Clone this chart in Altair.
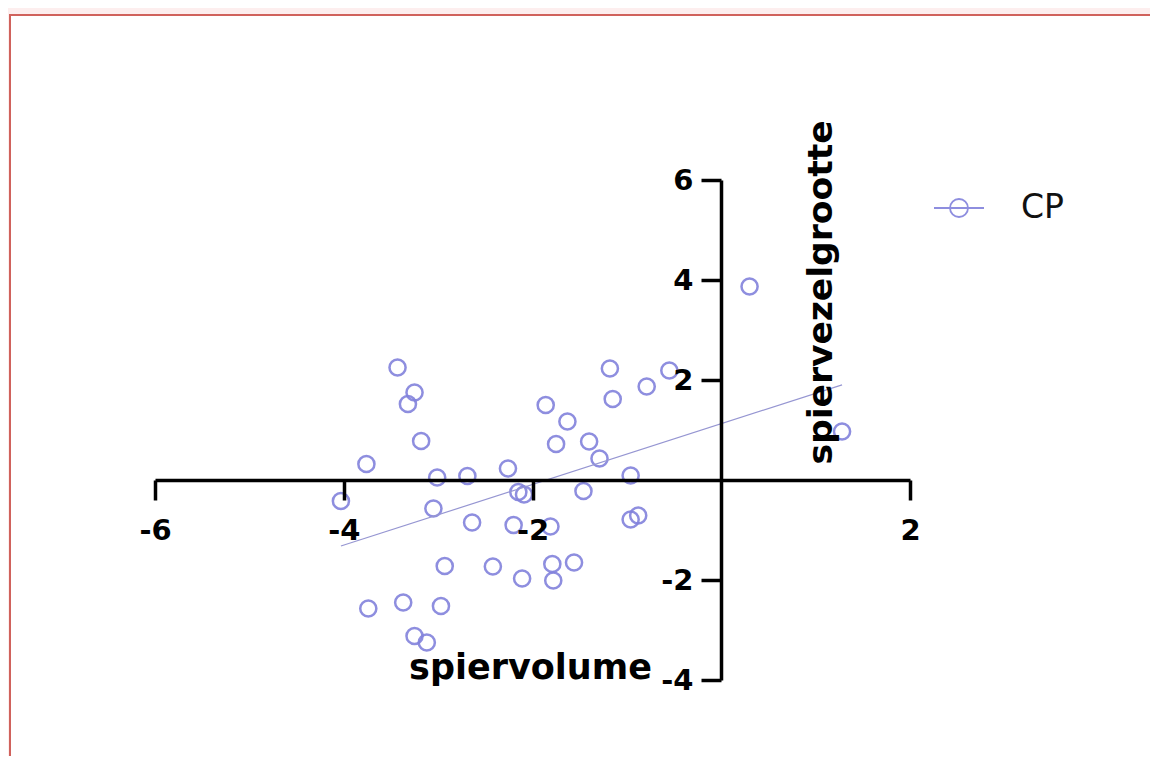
import altair as alt
import pandas as pd

# values
x_vals = [-3.43, -3.25, -3.32, -3.18, -3.76, -4.03,
          -3.01, -2.69, -2.26, -2.09, -2.15,
          -3.05, -2.64, -2.20, -1.81,
          -1.86, -1.63, -1.75, -1.40, -1.29, -1.46,
          -0.96, -1.18, -1.15, -0.79, -0.55, -0.96, -0.88,
          -2.93, -2.42, -2.11, -1.79, -1.78, -1.56,
          -3.74, -3.37, -2.97, -3.25, -3.12,
          0.30, 1.28]
y_vals = [2.25, 1.75, 1.52, 0.78, 0.32, -0.42,
          0.05, 0.08, 0.23, -0.29, -0.24,
          -0.57, -0.85, -0.90, -0.93,
          1.50, 1.17, 0.72, 0.77, 0.43, -0.22,
          0.09, 2.23, 1.62, 1.87, 2.19, -0.79, -0.71,
          -1.72, -1.73, -1.97, -1.68, -2.01, -1.65,
          -2.57, -2.45, -2.52, -3.12, -3.25,
          3.87, 0.97]
series_name = "CP"
x_ticks = [-6, -4, -2, 2]
y_ticks = [-4, -2, 2, 4, 6]
x_title = "spiervolume"
y_title = "spiervezelgrootte"

df = pd.DataFrame({"x": x_vals, "y": y_vals, "grp": [series_name] * len(x_vals)})
frame_df = pd.DataFrame({"k": [0]})

FONT = "DejaVu Sans"
PT_COLOR = "#8282dc"
LINE_COLOR = "#9696d2"
FRAME_COLOR = "#d0625c"
LABEL_EXPR = "replace(datum.label, '\u2212', '-')"

axis_common = dict(domainColor="black", domainWidth=3.5, tickColor="black", tickWidth=3.5,
                   tickSize=20, labelFont=FONT, labelFontWeight="bold", labelFontSize=29,
                   labelColor="black", titleFont=FONT, titleFontWeight="bold",
                   titleColor="black", grid=False, zindex=1,
                   labelFlush=False, labelOverlap=False, labelExpr=LABEL_EXPR)

xs = alt.Scale(domain=[-6, 2], nice=False, zero=False)
ys = alt.Scale(domain=[-4, 6], nice=False, zero=False)

x_enc = alt.X("x:Q", scale=xs,
              axis=alt.Axis(values=x_ticks, offset=-200, title=x_title, titleX=375, titleY=198,
                            titleFontSize=35, titleAlign="center", titleBaseline="alphabetic",
                            labelPadding=16, **axis_common))
y_enc = alt.Y("y:Q", scale=ys,
              axis=alt.Axis(values=y_ticks, offset=-566, title=y_title, titleAngle=270,
                            titleX=110, titleY=112, titleFontSize=34.5, titleAlign="center",
                            titleBaseline="alphabetic", labelPadding=8, **axis_common))

SYMBOL = "M-1,0L1,0M-0.36,0A0.36,0.36,0,1,1,0.36,0A0.36,0.36,0,1,1,-0.36,0Z"

color = alt.Color("grp:N", scale=alt.Scale(range=[PT_COLOR]),
                  legend=alt.Legend(title=None, orient="none", legendX=778, legendY=2,
                                    symbolType=SYMBOL, symbolSize=2500, symbolStrokeWidth=1.8,
                                    symbolFillColor="transparent",
                                    labelFont=FONT, labelFontSize=33, labelColor="#111",
                                    labelOffset=36, padding=0))

frame = alt.Chart(frame_df).mark_rect(fill="white", stroke=FRAME_COLOR, strokeWidth=2).encode(
    x=alt.value(-145), x2=alt.value(1300), y=alt.value(-165), y2=alt.value(900))

points = alt.Chart(df).mark_point(shape="circle", filled=False, size=260, strokeWidth=2.5,
                                  opacity=0.9).encode(x=x_enc, y=y_enc, color=color)

line = alt.Chart(df).transform_regression("x", "y").mark_line(
    color=LINE_COLOR, strokeWidth=1.2).encode(x=x_enc, y=y_enc)

chart = alt.layer(frame, points, line).properties(
    width=755, height=500,
    padding={"left": 147, "top": 172, "right": 240, "bottom": 76},
    autosize=alt.AutoSizeParams(type="none"),
).configure(background="#fdeeee").configure_view(stroke=None)

chart.save("out.html", embed_options={"renderer": "svg", "actions": False})
